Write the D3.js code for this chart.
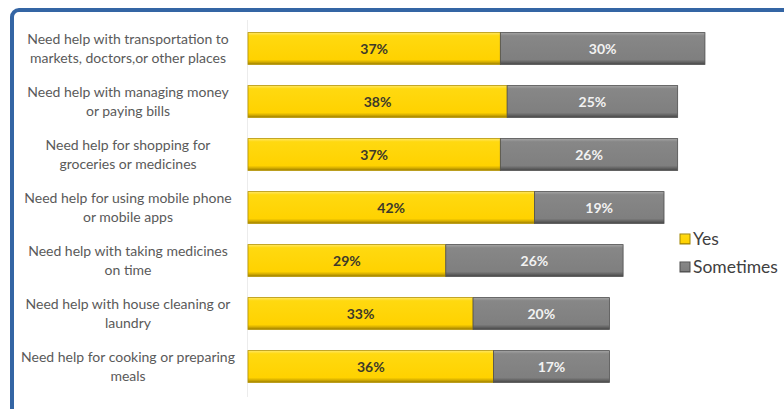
<!DOCTYPE html>
<html>
<head>
<meta charset="utf-8">
<script src="https://cdn.jsdelivr.net/npm/d3@7"></script>
<style>
  html, body { margin: 0; padding: 0; background: #fff; }
  svg { display: block; }
</style>
</head>
<body>
<svg id="chart" width="784" height="409"></svg>
<script>
// Survey items (two-line labels) and shares answering "Yes" / "Sometimes"
const categories = [
  ["Need help with transportation to", "markets, doctors,or other places"],
  ["Need help with managing money", "or paying bills"],
  ["Need help for shopping for", "groceries or medicines"],
  ["Need help for using mobile phone", "or mobile apps"],
  ["Need help with taking medicines", "on time"],
  ["Need help with house cleaning or", "laundry"],
  ["Need help for cooking or preparing", "meals"]
];
const yesValues = [37, 38, 37, 42, 29, 33, 36];
const sometimesValues = [30, 25, 26, 19, 26, 20, 17];
const seriesNames = ["Yes", "Sometimes"];

const svg = d3.select("#chart");
const W = 784, H = 409;

// framed panel
svg.append("rect")
  .attr("x", 12).attr("y", 10)
  .attr("width", W + 20).attr("height", H + 20)
  .attr("rx", 7)
  .attr("fill", "#fff")
  .attr("stroke", "#3465a4")
  .attr("stroke-width", 4);

const plotLeft = 248;
const x = d3.scaleLinear().domain([0, 100]).range([plotLeft, plotLeft + 682]);
const y = d3.scaleBand()
  .domain(d3.range(categories.length))
  .range([22, 393])
  .paddingInner(0.4)
  .paddingOuter(0.2);

// bevel-like gradients
const defs = svg.append("defs");
function grad(id, stops) {
  const g = defs.append("linearGradient").attr("id", id)
    .attr("x1", 0).attr("y1", 0).attr("x2", 0).attr("y2", 1);
  stops.forEach(([o, c]) => g.append("stop").attr("offset", o).attr("stop-color", c));
}
grad("gYes", [[0, "#ffe766"], [0.1, "#ffd910"], [0.85, "#ffd200"], [0.92, "#d8b000"], [1, "#9c7e00"]]);
grad("gSom", [[0, "#a5a5a5"], [0.1, "#878787"], [0.85, "#7f7f7f"], [0.92, "#666"], [1, "#474747"]]);

// faint category axis line
svg.append("line")
  .attr("x1", plotLeft - 0.5).attr("x2", plotLeft - 0.5)
  .attr("y1", 20).attr("y2", 397)
  .attr("stroke", "#ececec").attr("stroke-width", 1);

const rows = categories.map((c, i) => ({ i, label: c, yes: yesValues[i], som: sometimesValues[i] }));

const g = svg.append("g");
const row = g.selectAll("g.row").data(rows).join("g").attr("class", "row");

// Yes segment
row.append("rect")
  .attr("x", d => x(0))
  .attr("y", d => y(d.i))
  .attr("width", d => x(d.yes) - x(0))
  .attr("height", y.bandwidth())
  .attr("fill", "url(#gYes)")
  .attr("stroke", "#b59300").attr("stroke-width", 0.8);

// Sometimes segment
row.append("rect")
  .attr("x", d => x(d.yes))
  .attr("y", d => y(d.i))
  .attr("width", d => x(d.yes + d.som) - x(d.yes))
  .attr("height", y.bandwidth())
  .attr("fill", "url(#gSom)")
  .attr("stroke", "#4e4e4e").attr("stroke-width", 0.8);

// value labels
row.append("text")
  .attr("x", d => (x(0) + x(d.yes)) / 2)
  .attr("y", d => y(d.i) + y.bandwidth() / 2)
  .attr("dy", "0.36em")
  .attr("text-anchor", "middle")
  .attr("font-family", "Lato, 'Open Sans', sans-serif")
  .attr("font-weight", "bold")
  .attr("font-size", 14)
  .attr("fill", "#3d3a2a")
  .text(d => d.yes + "%");

row.append("text")
  .attr("x", d => (x(d.yes) + x(d.yes + d.som)) / 2)
  .attr("y", d => y(d.i) + y.bandwidth() / 2)
  .attr("dy", "0.36em")
  .attr("text-anchor", "middle")
  .attr("font-family", "Lato, 'Open Sans', sans-serif")
  .attr("font-weight", "bold")
  .attr("font-size", 14)
  .attr("fill", "#f2f2f2")
  .text(d => d.som + "%");

// category labels, two centred lines
const lab = row.append("text")
  .attr("text-anchor", "middle")
  .attr("font-family", "Lato, 'Open Sans', sans-serif")
  .attr("font-size", 14)
  .attr("fill", "#5a5a5a");
lab.selectAll("tspan").data(d => d.label.map((t, k) => ({ t, k, d })))
  .join("tspan")
  .attr("x", 128)
  .attr("y", o => y(o.d.i) + y.bandwidth() / 2 + (o.k === 0 ? -9.5 : 9.5))
  .attr("dy", "0.35em")
  .text(o => o.t);

// legend
const legend = svg.append("g").attr("transform", "translate(680,239)");
const lg = legend.selectAll("g").data(seriesNames).join("g")
  .attr("transform", (d, i) => `translate(0,${i * 28})`);
lg.append("rect")
  .attr("x", 0).attr("y", -5).attr("width", 10).attr("height", 10)
  .attr("fill", (d, i) => i === 0 ? "url(#gYes)" : "url(#gSom)")
  .attr("stroke", (d, i) => i === 0 ? "#a08400" : "#4e4e4e")
  .attr("stroke-width", 1);
lg.append("text")
  .attr("x", 13).attr("y", 0).attr("dy", "0.35em")
  .attr("font-family", "Lato, 'Open Sans', sans-serif")
  .attr("font-size", 17.5)
  .attr("fill", "#404040")
  .text(d => d);
</script>
</body>
</html>
